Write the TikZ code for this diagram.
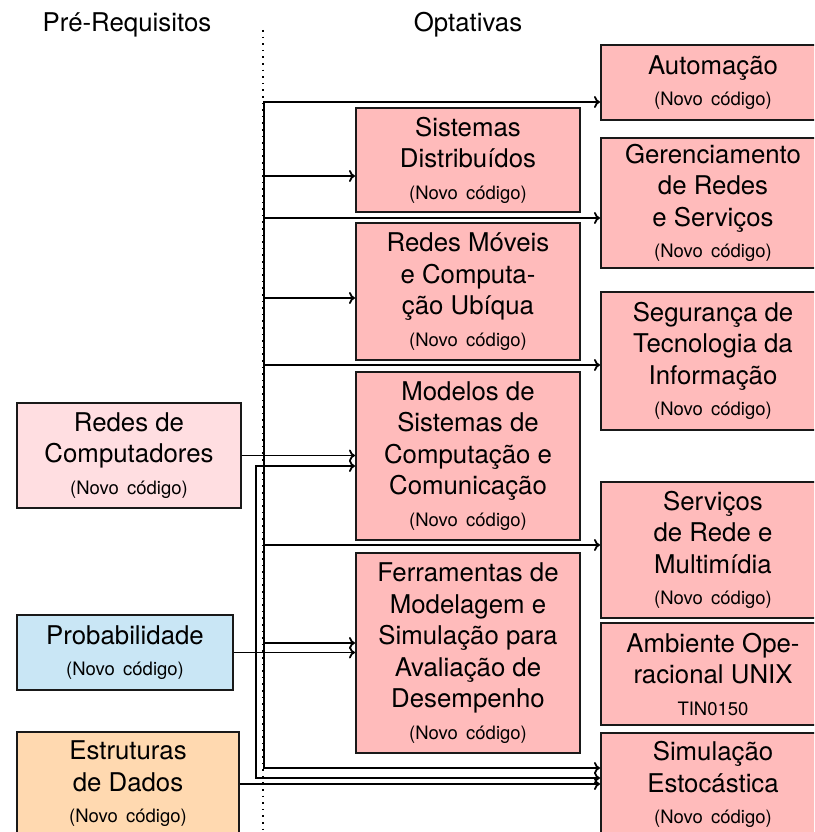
\documentclass[tikz,border=0pt]{standalone}
\usepackage{fontspec}
\setmainfont{TeX Gyre Heros}
\usetikzlibrary{arrows.meta}
\definecolor{optfill}{RGB}{255,187,187}
\definecolor{redesfill}{RGB}{255,222,225}
\definecolor{probfill}{RGB}{201,230,245}
\definecolor{estrfill}{RGB}{255,217,176}
\definecolor{edgecol}{RGB}{25,25,25}
\newcommand{\novocod}{{\fontsize{18.5}{31}\selectfont (Novo\hspace{0.45em}código)}}
\newcommand{\smalltxt}[1]{{\fontsize{18.5}{31}\selectfont #1}}
\begin{document}
\begin{tikzpicture}[x=1pt,y=-1pt,
  box/.style={draw=edgecol, line width=2pt, inner sep=0pt, align=center,
    font=\fontsize{25.8}{31.5}\selectfont},
  opt/.style={box, fill=optfill, minimum width=224pt},
  hdr/.style={font=\fontsize{25.8}{31}\selectfont, inner sep=0pt, anchor=base},
  arr/.style={-{To[length=6pt,width=12pt]}, line width=1.8pt},
  dotline/.style={line width=1.6pt, dash pattern=on 1.6pt off 5pt}]
\useasboundingbox (0,0) rectangle (814,832);
\clip (0,0) rectangle (814,832);

% headers
\node[hdr] (hpre) at (127,32) {Pré-Requisitos};
\node[hdr] (hopt) at (468,32) {Optativas};

% dotted separator
\coordinate (dtop) at (263,30);
\coordinate (dbot) at (263,834);
\draw[dotline] (dtop) -- (dbot);

% left column
\node[box, fill=redesfill, minimum width=224pt, minimum height=105pt] (redes) at (129,455.5)
  {Redes de\\Computadores\\\novocod};
\node[box, fill=probfill, minimum width=216pt, minimum height=75pt] (prob) at (125,652.5)
  {Probabilidade\\\novocod};
\node[box, fill=estrfill, minimum width=222pt, minimum height=104pt] (estr) at (128,784)
  {Estruturas\\de Dados\\\novocod};

% middle column
\node[opt, minimum height=104pt] (sist) at (468,160)
  {Sistemas\\Distribuídos\\\novocod};
\node[opt, minimum height=137pt] (movel) at (468,291.5)
  {Redes Móveis\\e Computa-\\ção Ubíqua\\\novocod};
\node[opt, minimum height=168pt] (model) at (468,456)
  {Modelos de\\Sistemas de\\Computação e\\Comunicação\\\novocod};
\node[opt, minimum height=200pt] (ferr) at (468,653)
  {Ferramentas de\\Modelagem e\\Simulação para\\Avaliação de\\Desempenho\\\novocod};

% right column
\node[opt, minimum height=75pt] (auto) at (713,82.5)
  {Automação\\\novocod};
\node[opt, minimum height=130pt] (gere) at (713,203)
  {Gerenciamento\\de Redes\\e Serviços\\\novocod};
\node[opt, minimum height=138pt] (segu) at (713,361)
  {Segurança de\\Tecnologia da\\Informação\\\novocod};
\node[opt, minimum height=136pt] (serv) at (713,550)
  {Serviços\\de Rede e\\Multimídia\\\novocod};
\node[opt, minimum height=102pt] (ambi) at (713,674)
  {Ambiente Ope-\\racional UNIX\\\smalltxt{TIN0150}};
\node[opt, minimum height=103pt] (simu) at (713,784.5)
  {Simulação\\Estocástica\\\novocod};

% bus from Redes de Computadores
\coordinate (bj) at (264,455.5);
\coordinate (bt) at (264,102);
\coordinate (bb) at (264,768);
\coordinate (b1) at (264,176);
\coordinate (b2) at (264,218);
\coordinate (b3) at (264,298);
\coordinate (b4) at (264,365);
\coordinate (b5) at (264,545);
\coordinate (b6) at (264,643);
\draw[arr] (bj) -- (bt) -- (bt -| auto.west);
\draw[arr] (bj) -- (bb) -- (bb -| simu.west);
\draw[arr] (b1) -- (b1 -| sist.west);
\draw[arr] (b2) -- (b2 -| gere.west);
\draw[arr] (b3) -- (b3 -| movel.west);
\draw[arr] (b4) -- (b4 -| segu.west);
\draw[arr] (b5) -- (b5 -| serv.west);
\draw[arr] (b6) -- (b6 -| ferr.west);
\draw[arr] (redes.east) -- (redes.east -| model.west);

% Probabilidade
\coordinate (pj) at (256,652.5);
\coordinate (p1) at (256,466);
\coordinate (p2) at (256,778);
\draw[arr] (prob.east) -- (prob.east -| ferr.west);
\draw[arr] (pj) -- (p1) -- (p1 -| model.west);
\draw[arr] (pj) -- (p2) -- (p2 -| simu.west);

% Estruturas de Dados
\draw[arr] (estr.east) -- (estr.east -| simu.west);
\end{tikzpicture}
\end{document}
